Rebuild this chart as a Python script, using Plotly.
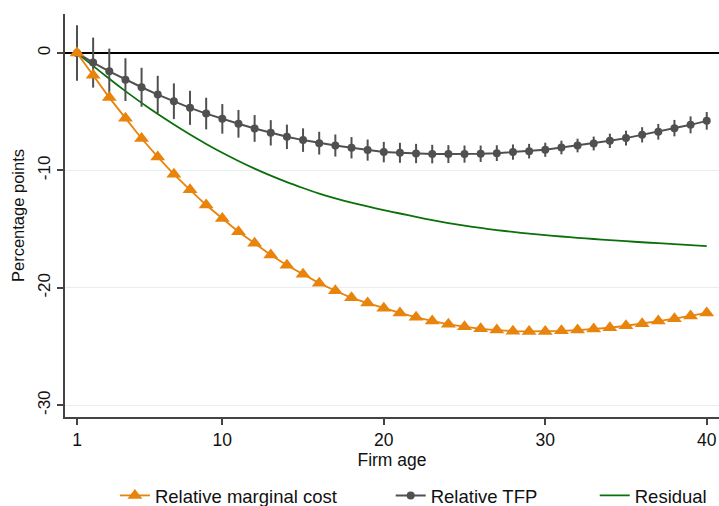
import plotly.graph_objects as go

# Firm age (years)
age = list(range(1, 41))

# Relative marginal cost, percentage points
marginal_cost = [
    0.0, -1.9, -3.8, -5.55, -7.28, -8.85, -10.33, -11.65, -12.95, -14.1,
    -15.22, -16.2, -17.2, -18.07, -18.85, -19.6, -20.25, -20.85, -21.3, -21.74,
    -22.14, -22.51, -22.83, -23.11, -23.31, -23.49, -23.6, -23.69, -23.71, -23.71,
    -23.66, -23.6, -23.51, -23.4, -23.23, -23.06, -22.83, -22.63, -22.4, -22.14,
]

# Relative TFP, percentage points, with confidence-interval half widths
tfp = [
    0.0, -0.82, -1.56, -2.27, -2.92, -3.54, -4.11, -4.67, -5.16, -5.61,
    -6.03, -6.43, -6.8, -7.14, -7.42, -7.68, -7.88, -8.07, -8.27, -8.44,
    -8.5, -8.56, -8.61, -8.61, -8.61, -8.58, -8.53, -8.44, -8.36, -8.24,
    -8.05, -7.88, -7.71, -7.48, -7.25, -6.97, -6.71, -6.4, -6.12, -5.78,
]
tfp_ci = [
    2.37, 2.13, 1.93, 1.82, 1.66, 1.6, 1.52, 1.45, 1.35, 1.26,
    1.18, 1.14, 1.08, 1.04, 1.0, 0.97, 0.94, 0.91, 0.9, 0.87,
    0.85, 0.82, 0.79, 0.76, 0.73, 0.7, 0.67, 0.65, 0.62, 0.6,
    0.58, 0.58, 0.59, 0.61, 0.63, 0.65, 0.67, 0.7, 0.72, 0.75,
]

# Residual, percentage points
residual = [
    0.0, -1.1, -2.2, -3.25, -4.25, -5.2, -6.1, -6.95, -7.75, -8.5,
    -9.2, -9.85, -10.45, -11.0, -11.5, -11.97, -12.38, -12.75, -13.07, -13.38,
    -13.67, -13.96, -14.23, -14.48, -14.7, -14.9, -15.08, -15.24, -15.38, -15.51,
    -15.63, -15.74, -15.84, -15.94, -16.03, -16.12, -16.2, -16.28, -16.36, -16.44,
]

x_ticks = [1, 10, 20, 30, 40]
y_ticks = [0, -10, -20, -30]

ORANGE = "#e8830c"
GREY = "#505050"
GREEN = "#0a700a"
AXIS = "#444444"
FONT = "Liberation Sans, Arial, sans-serif"

fig = go.Figure()

fig.add_trace(go.Scatter(
    x=age, y=residual, name="Residual", mode="lines",
    line=dict(color=GREEN, width=1.8, shape="spline", smoothing=0.6),
    legend="legend3", showlegend=True,
))

fig.add_trace(go.Scatter(
    x=age, y=tfp, name="Relative TFP", mode="lines+markers",
    line=dict(color=GREY, width=2),
    marker=dict(symbol="circle", size=8, color=GREY),
    error_y=dict(type="data", array=tfp_ci, visible=True,
                 color=GREY, thickness=2, width=0),
    legend="legend2", showlegend=True,
))

fig.add_trace(go.Scatter(
    x=age, y=marginal_cost, name="Relative marginal cost", mode="lines+markers",
    line=dict(color=ORANGE, width=1.8),
    marker=dict(symbol="triangle-up", size=13, color=ORANGE),
    legend="legend", showlegend=True,
))

legend_common = dict(
    orientation="h", yref="container", y=0.02, yanchor="middle",
    xanchor="left", font=dict(size=18.5), bgcolor="rgba(0,0,0,0)",
    visible=True,
)

fig.update_layout(
    width=719, height=506,
    margin=dict(l=65, r=0, t=14, b=89),
    paper_bgcolor="white", plot_bgcolor="white",
    font=dict(family=FONT, size=17, color="#111111"),
    showlegend=True,
    legend=dict(x=0.0763, **legend_common),
    legend2=dict(x=0.498, **legend_common),
    legend3=dict(x=0.810, **legend_common),
)

fig.update_xaxes(
    range=[0.257, 40.76], tickvals=x_ticks, ticktext=[str(v) for v in x_ticks],
    showgrid=False, zeroline=False,
    showline=True, linecolor=AXIS, linewidth=1.5,
    ticks="outside", ticklen=6, tickwidth=1.5, tickcolor=AXIS,
    tickfont=dict(size=17.5),
    title=dict(text="Firm age", standoff=1, font=dict(size=17.5)),
)

fig.update_yaxes(
    range=[-31.0, 3.32], tickvals=y_ticks, ticktext=[str(v) for v in y_ticks],
    tickangle=-90, tickfont=dict(size=17),
    showgrid=True, gridcolor="#e6eef0", gridwidth=1,
    zeroline=True, zerolinecolor="#000000", zerolinewidth=1.6,
    showline=True, linecolor=AXIS, linewidth=1.5,
    ticks="outside", ticklen=6, tickwidth=1.5, tickcolor=AXIS,
    title=dict(text="Percentage points", standoff=7, font=dict(size=16.5)),
)

fig.write_html("out.html")
